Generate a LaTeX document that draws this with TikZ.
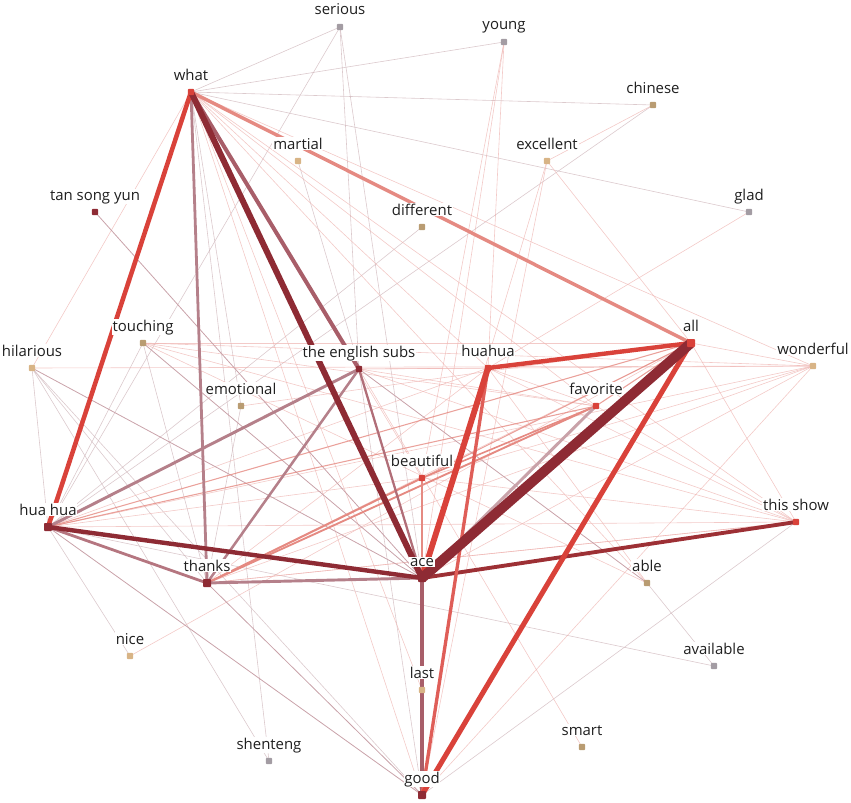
\documentclass[tikz,border=0pt]{standalone}
\usepackage{fontspec}
\setmainfont{Open Sans}
\definecolor{dred}{HTML}{8E2B34}
\definecolor{rred}{HTML}{D9423A}
\definecolor{mauve}{HTML}{A85E69}
\definecolor{lmauve}{HTML}{B5808A}
\definecolor{pmauve}{HTML}{C9A2A9}
\definecolor{pinkv}{HTML}{E58A82}
\definecolor{gray1}{HTML}{A39CA3}
\definecolor{tan1}{HTML}{B99C72}
\definecolor{tan2}{HTML}{D8B486}
\definecolor{fgc}{HTML}{CDB3B8}
\definecolor{fpc}{HTML}{EEB3B0}
\begin{document}
\begin{tikzpicture}[x=0.75pt,y=-0.75pt,
  lab/.style={font=\fontsize{11.2pt}{13pt}\selectfont, text=black!88, fill=white, inner sep=0.6pt, anchor=base},
  mk/.style={minimum size=4.6pt, inner sep=0pt, rounded corners=0.6pt, fill=#1},
  mkb/.style={minimum size=6pt, inner sep=0pt, rounded corners=0.6pt, fill=#1},
  fg/.style={draw=fgc, line width=0.45pt, draw opacity=0.7},
  fp/.style={draw=fpc, line width=0.45pt, draw opacity=0.7},
  fm/.style={draw=pmauve, line width=0.6pt},
  vp/.style={draw=pinkv, line width=0.8pt, draw opacity=0.8}]
\useasboundingbox (0,0) rectangle (851,803);
% positions
\coordinate (ser) at (340,27);
\coordinate (yng) at (504,42);
\coordinate (what) at (191,92);
\coordinate (chn) at (653,105);
\coordinate (mar) at (298,161);
\coordinate (exc) at (547,161);
\coordinate (tsy) at (95,212);
\coordinate (dif) at (422,227);
\coordinate (gld) at (749,212);
\coordinate (tch) at (143,343);
\coordinate (hil) at (32,368);
\coordinate (sub) at (359,369);
\coordinate (hu) at (488,368);
\coordinate (all) at (691,343);
\coordinate (won) at (813,366);
\coordinate (emo) at (241,406);
\coordinate (fav) at (596,406);
\coordinate (bea) at (422,478);
\coordinate (hh) at (48,527);
\coordinate (shw) at (796,522);
\coordinate (thx) at (207,583);
\coordinate (ace) at (422,578);
\coordinate (abl) at (647,583);
\coordinate (nic) at (130,656);
\coordinate (avl) at (714,666);
\coordinate (lst) at (422,690);
\coordinate (smt) at (582,747);
\coordinate (shn) at (269,761);
\coordinate (good) at (422,795);
% faint gray edges
\foreach \a/\b in {what/ser, what/yng, what/chn, what/gld, ser/hh, ser/sub, ser/ace,
  chn/hh, hil/hh, hil/shn, hil/good, tch/hh, what/shn, what/emo, hh/nic, abl/avl,
  good/shw, hh/avl, dif/hh, mar/ace, emo/thx, hil/thx, tch/thx, sub/good}
  \draw[fg] (\a) -- (\b);
% faint pink edges
\foreach \a/\b in {what/hil, what/won, what/shw, what/fav, what/bea, what/hu, what/abl,
  what/good, what/lst, yng/bea, yng/ace, yng/hu, exc/ace, exc/good, exc/all, gld/hu,
  hil/won, tch/all, tch/won, tch/abl, tch/shw, sub/hu, sub/won, sub/smt, sub/shw,
  sub/fav, nic/all, all/shw, all/won, hh/hu, hh/won, hh/shw, hh/bea, thx/all, thx/won,
  thx/shw, bea/won, bea/shw, hu/shw, hu/abl, ace/won, fav/shw, good/won, hu/fav,
  emo/all, chn/exc, bea/good, hu/thx, tch/fav, shw/thx}
  \draw[fp] (\a) -- (\b);
% thin mauve
\foreach \a/\b in {hil/ace, tsy/ace, hh/good, thx/good, tch/ace, sub/abl}
  \draw[fm] (\a) -- (\b);
% visible pink
\foreach \a/\b in {hh/fav, hh/all, fav/all, bea/all}
  \draw[vp] (\a) -- (\b);
% strong edges
\draw[draw=pinkv, line width=1.4pt] (thx) -- (fav);
\draw[draw=pinkv, line width=1.2pt] (bea) -- (fav);
\draw[draw=pinkv, line width=1.5pt] (thx) -- (bea);
\draw[draw=pinkv, line width=1.4pt] (bea) -- (ace);
\draw[draw=pmauve, line width=2.2pt] (fav) -- (ace);
\draw[draw=lmauve, line width=1.9pt] (thx) -- (sub);
\draw[draw=lmauve, line width=2.2pt] (hh) -- (sub);
\draw[draw=lmauve, line width=2.1pt] (what) -- (thx);
\draw[draw=mauve!85!white, line width=2.1pt] (hh) -- (thx);
\draw[draw=lmauve, line width=2.2pt] (thx) -- (ace);
\draw[draw=mauve!90!white, line width=1.7pt] (sub) -- (ace);
\draw[draw=mauve, line width=2.6pt] (ace) -- (good);
\draw[draw=pinkv, line width=2.6pt] (what) -- (all);
\draw[draw=mauve, line width=3pt] (what) -- (sub);
\draw[draw=rred, line width=3.4pt] (what) -- (hh);
\draw[draw=dred, line width=3.3pt] (hh) -- (ace);
\draw[draw=dred!80!rred, line width=2.9pt] (shw) -- (ace);
\draw[draw=rred!85!white, line width=2.5pt] (hu) -- (good);
\draw[draw=rred, line width=3.3pt] (hu) -- (all);
\draw[draw=rred, line width=3.8pt] (all) -- (good);
\draw[draw=rred, line width=4.4pt] (hu) -- (ace);
\draw[draw=dred, line width=4.5pt] (what) -- (ace);
\draw[draw=dred, line width=7.5pt] (all) -- (ace);
% markers
\foreach \n/\c in {ser/gray1, yng/gray1, gld/gray1, avl/gray1, shn/gray1,
  chn/tan1, mar/tan2, exc/tan2, dif/tan1, tch/tan1, hil/tan2, emo/tan1, won/tan2,
  abl/tan1, nic/tan2, lst/tan2, smt/tan1,
  tsy/dred, sub/dred, fav/rred, bea/rred, shw/rred, what/rred, hu/rred}
  \node[mk=\c] at (\n) {};
\foreach \n/\c in {all/rred, thx/dred, hh/dred, ace/dred, good/dred}
  \node[mkb=\c] at (\n) {};
% labels
\foreach \n/\t in {ser/serious, yng/young, what/what, chn/chinese, mar/martial,
  exc/excellent, tsy/tan song yun, dif/different, gld/glad, tch/touching,
  hil/hilarious, sub/the english subs, hu/huahua, all/all, won/wonderful,
  emo/emotional, fav/favorite, bea/beautiful, hh/hua hua, shw/this show,
  thx/thanks, ace/ace, abl/able, nic/nice, avl/available, lst/last, smt/smart,
  shn/shenteng, good/good}
  \node[lab] (\n-l) at ([yshift=9pt]\n) {\t};
\end{tikzpicture}
\end{document}
